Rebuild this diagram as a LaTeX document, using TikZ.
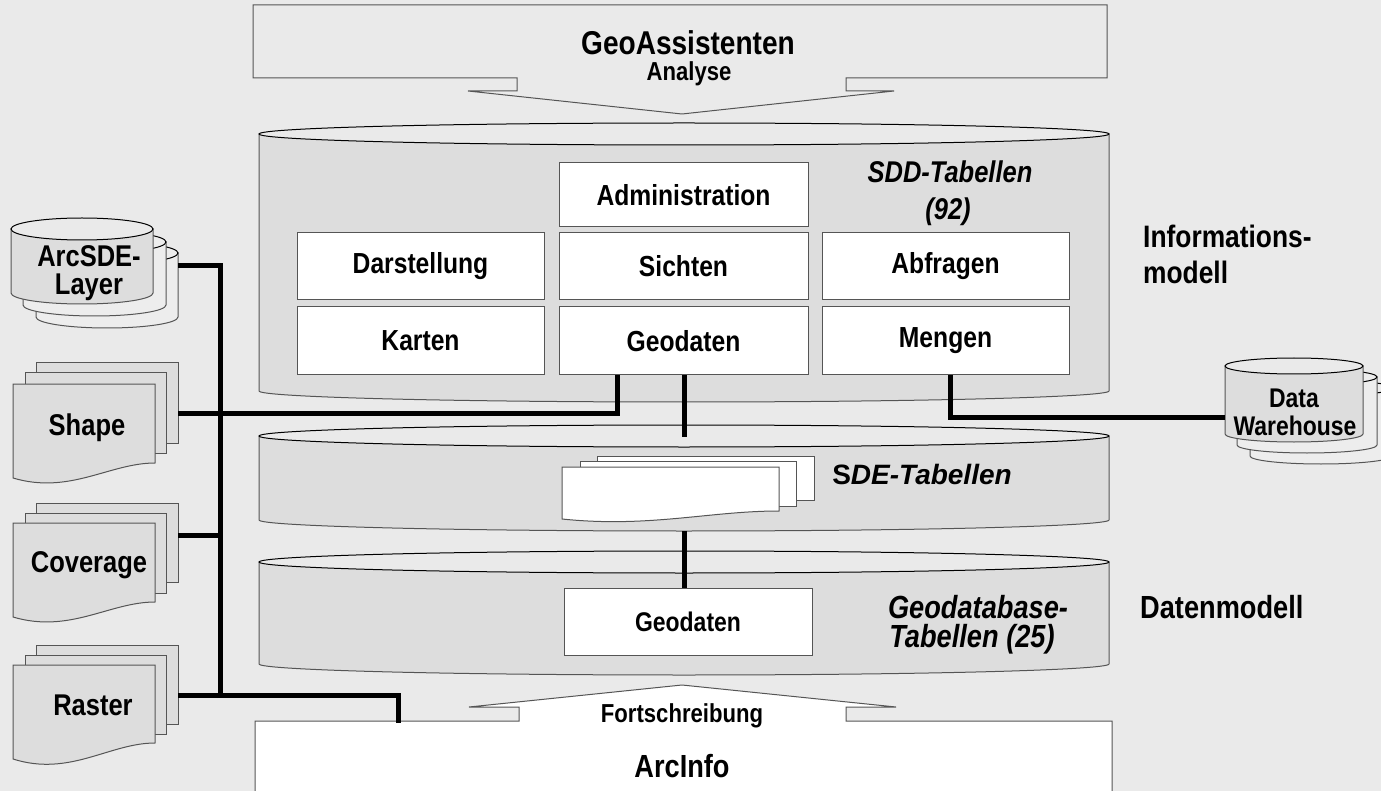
\documentclass[tikz,border=0pt]{standalone}
\usepackage{fontspec}
\setmainfont[FakeStretch=0.85]{Liberation Sans}
\newfontfamily\widefont{Liberation Sans}
\definecolor{bg}{HTML}{EAEAEA}
\definecolor{body}{HTML}{DDDDDD}
\definecolor{light}{HTML}{EDEDED}
\definecolor{edgec}{HTML}{555555}
\newcommand\fsz[1]{\fontsize{#1}{#1}\selectfont\bfseries}
% cylinder: x0,x1,ytop,ybot,ry,bodyfill,topfill
\newcommand\cylbody[7]{%
  \pgfmathsetmacro\cx{(#1+#2)/2}\pgfmathsetmacro\rx{(#2-#1)/2}%
  \filldraw[fill=#6,draw=edgec,line width=1pt] (#1,#3) -- (#1,#4) arc[start angle=180,end angle=0,x radius=\rx,y radius=#5] -- (#2,#3) -- cycle;
  \filldraw[fill=#7,draw=black,line width=1pt] (\cx,#3) ellipse[x radius=\rx,y radius=#5];}
% document front: x0,y0,x1,yR,yL,fill
\newcommand\docfront[6]{%
  \pgfmathsetmacro\dw{#3-#1}\pgfmathsetmacro\dd{#5-#4}%
  \pgfmathsetmacro\ca{#3-0.32*\dw}\pgfmathsetmacro\cb{#1+0.4*\dw}\pgfmathsetmacro\cc{#5+1.13*\dd}%
  \filldraw[fill=#6,draw=edgec,line width=1pt] (#1,#2) -- (#3,#2) -- (#3,#4) .. controls (\ca,#4) and (\cb,\cc) .. (#1,#5) -- cycle;}
\newcommand\docback[5]{\filldraw[fill=#5,draw=edgec,line width=1pt] (#1,#2) rectangle (#3,#4);}
\begin{document}
\begin{tikzpicture}[x=1pt,y=-1pt,
  tbox/.style={draw=edgec,fill=white,line width=1pt,inner sep=0pt,font=\fsz{29}},
  lbl/.style={inner sep=0pt,align=center},
  conn/.style={line width=5pt,line join=miter}]
\fill[bg] (0,0) rectangle (1381,791);
\useasboundingbox (0,0) rectangle (1381,791);

% top arrow box
\filldraw[fill=bg,draw=edgec,line width=1pt] (253,5) -- (1107,5) -- (1107,78) -- (846,78) -- (846,91) -- (894,91) -- (682,114) -- (468,91) -- (517,91) -- (517,78) -- (253,78) -- cycle;
\node[lbl,font=\fsz{33}] (geoass) at (688,43) {GeoAssistenten};
\node[lbl,font=\fsz{26}] (analyse) at (689,74) {Analyse};

% bottom arrow box
\filldraw[fill=white,draw=edgec,line width=1pt] (255,800) -- (255,721) -- (519,721) -- (519,707) -- (469,707) -- (682,685) -- (896,707) -- (846,707) -- (846,721) -- (1112,721) -- (1112,800);
\node[lbl,font=\fsz{26}] (fort) at (682,716) {Fortschreibung};
\node[lbl,font=\fsz{32}] (arcinfo) at (682,766) {ArcInfo};

% main cylinders
\cylbody{259}{1109}{134}{391}{11}{body}{bg}
\cylbody{259}{1109}{436}{520}{11}{body}{bg}
\cylbody{259}{1109}{562}{664}{11}{body}{bg}

% SDD boxes
\node[tbox,minimum width=249pt,minimum height=64pt] (admin) at (683.5,195) {Administration};
\node[tbox,minimum width=247pt,minimum height=67pt] (darst) at (420.5,266.5) {Darstellung};
\node[tbox,minimum width=249pt,minimum height=67pt] (sichten) at (683.5,266.5) {Sichten};
\node[tbox,minimum width=247pt,minimum height=67pt] (abfr) at (945.5,266.5) {Abfragen};
\node[tbox,minimum width=247pt,minimum height=68pt] (karten) at (420.5,341) {Karten};
\node[tbox,minimum width=249pt,minimum height=68pt] (geo) at (683.5,341) {Geodaten};
\node[tbox,minimum width=247pt,minimum height=68pt] (mengen) at (945.5,341) {Mengen};
\node[lbl,font=\fsz{30}\itshape] (sdd) at (950,172) {SDD-Tabellen};
\node[lbl,font=\fsz{30}\itshape] (sddn) at (948,212) {(92)};

% SDE doc stack
\docback{597}{456}{814}{500}{white}
\docback{580}{461}{796}{506}{white}
\docfront{562}{467}{779}{511}{519}{white}
\node[lbl,font=\widefont\fsz{28}] (sde) at (922,474) {S\itshape DE-Tabellen};

% Geodatabase
\node[tbox,font=\fsz{27},minimum width=248pt,minimum height=67pt] (geo2) at (688,621.5) {Geodaten};
\node[lbl,font=\fsz{32}\itshape] (gdb1) at (978,607) {Geodatabase-};
\node[lbl,font=\fsz{32}\itshape] (gdb2) at (972,639) {Tabellen (25)};

% right labels
\node[lbl,anchor=west,font=\fsz{31},align=left] (info1) at (1143,236) {Informations-};
\node[lbl,anchor=west,font=\fsz{31},align=left] (info2) at (1143,272) {modell};
\node[lbl,anchor=west,font=\fsz{32}] (daten) at (1140,607) {Datenmodell};

% ArcSDE-Layer cylinders
\cylbody{36}{178}{253}{317}{11}{light}{light}
\cylbody{23}{166}{242}{305}{11}{light}{light}
\cylbody{11}{153}{229}{293}{11}{body}{bg}
\node[lbl,font=\fsz{30}] (sdel1) at (89,256) {ArcSDE-};
\node[lbl,font=\fsz{30}] (sdel2) at (89,287) {Layer};

% Data Warehouse cylinders
\cylbody{1250}{1392}{388}{456}{8}{light}{light}
\cylbody{1237}{1377}{377}{445}{8}{light}{light}
\cylbody{1225}{1363}{366}{434}{8}{body}{bg}
\node[lbl,font=\fsz{27}] (dw1) at (1294,398) {Data};
\node[lbl,font=\fsz{27}] (dw2) at (1295,426) {Warehouse};

% Shape stack
\docback{36}{363}{178}{443}{body}
\docback{25}{373}{166}{453}{body}
\docfront{13}{384}{155}{463}{478}{body}
\node[lbl,font=\fsz{30}] (shape) at (87,428) {Shape};
% Coverage stack
\docback{36}{503}{178}{582}{body}
\docback{25}{513}{166}{593}{body}
\docfront{13}{523}{155}{602}{617}{body}
\node[lbl,font=\fsz{30}] (cover) at (89,565) {Coverage};
% Raster stack
\docback{36}{645}{178}{724}{body}
\docback{25}{655}{166}{734}{body}
\docfront{13}{665}{155}{743}{759}{body}
\node[lbl,font=\fsz{30}] (raster) at (93,705) {Raster};

% connector coordinates
\coordinate (sdeR) at (178,266);
\coordinate (shapeR) at (178,413);
\coordinate (coverR) at (178,535);
\coordinate (rasterR) at (178,695);
\coordinate (busT) at (220,266);
\coordinate (busB) at (220,695);
\coordinate (busC) at (220,535);
\coordinate (geoL) at (617,375);
\coordinate (arcT) at (398,723);
\coordinate (sdeTop) at (684,437);
\coordinate (sdeBot) at (684,531);
\coordinate (mengB) at (950,375);
\coordinate (dwL) at (1225,417);

\draw[conn] (sdeR) -- (busT) -- (busB);
\draw[conn] (shapeR) -| (geoL);
\draw[conn] (coverR) -- (busC);
\draw[conn] (rasterR) -| (arcT);
\draw[conn] (geo.south -| sdeTop) -- (sdeTop);
\draw[conn] (sdeBot) -- (geo2.north -| sdeBot);
\draw[conn] (mengB) |- (dwL);
\end{tikzpicture}
\end{document}
